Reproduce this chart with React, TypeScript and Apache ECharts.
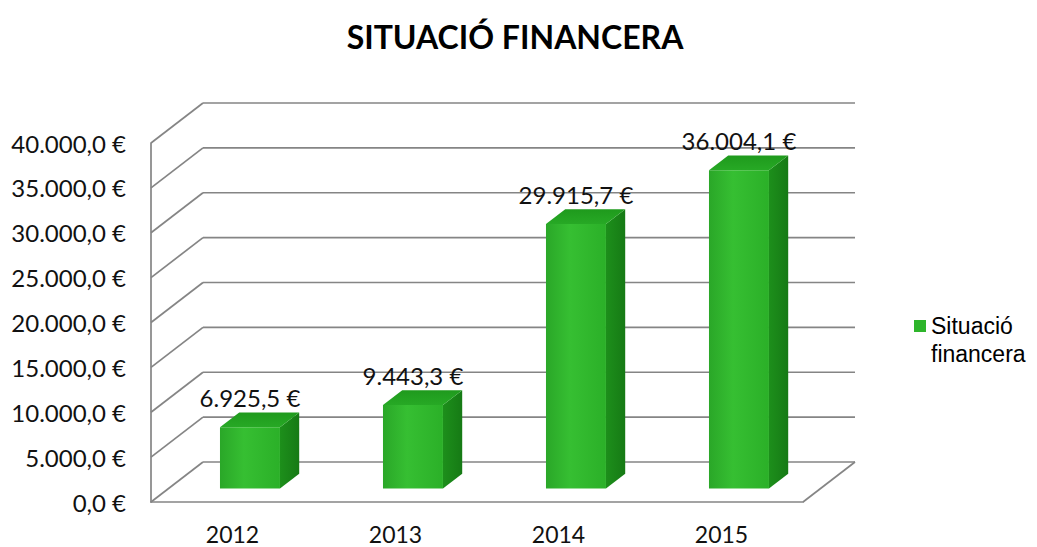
import React, { useEffect, useRef } from "react";
import * as echarts from "echarts";

const title = "SITUACIÓ FINANCERA";
const seriesName = "Situació financera";
const categories = ["2012", "2013", "2014", "2015"];
const values = [6925.5, 9443.3, 29915.7, 36004.1];
const yTicks = [0, 5000, 10000, 15000, 20000, 25000, 30000, 35000, 40000];

const DX = 52;
const DY = -40;
const F0 = 0.336;
const BD = 0.37;
const K = 0.985;
const GRID_COLOR = "#858585";
const FONT = "Lato";

function fmtEuro(v: number): string {
  const [i, d] = v.toFixed(1).split(".");
  const withDots = i.replace(/\B(?=(\d{3})+(?!\d))/g, ".");
  return withDots + "," + d + " €";
}

export default function App() {
  const ref = useRef<HTMLDivElement>(null);
  useEffect(() => {
    if (!ref.current) return;
    const chart = echarts.init(ref.current, null, { renderer: "svg" });

    const wallsRender = (params: any, api: any) => {
      const v = api.value(1);
      const p = api.coord([0, v]);
      const cs = params.coordSys;
      const L = cs.x;
      const R = cs.x + cs.width;
      const y = p[1];
      const style = { stroke: GRID_COLOR, lineWidth: 1.7, fill: null };
      const children: any[] = [
        { type: "line", shape: { x1: L, y1: y, x2: L + DX, y2: y + DY }, style },
        { type: "line", shape: { x1: L + DX, y1: y + DY, x2: R + DX, y2: y + DY }, style },
      ];
      if (v === 0) {
        children.push({ type: "line", shape: { x1: R, y1: y, x2: R + DX, y2: y + DY }, style });
      }
      return { type: "group", children };
    };

    const barsRender = (params: any, api: any) => {
      const idx = api.value(0);
      const val = api.value(1);
      const base = api.coord([idx, 0]);
      const top = api.coord([idx, val]);
      const band = api.size([1, 0])[0];
      const w = band * 0.368;
      const ox = DX * F0;
      const oy = DY * F0;
      const xl = base[0] + ox - w / 2;
      const xr = xl + w;
      const yb = base[1] + oy;
      const yt = yb - (base[1] - top[1]) * K;
      const bx = DX * BD;
      const by = DY * BD;
      return {
        type: "group",
        children: [
          {
            type: "polygon",
            shape: { points: [[xr, yt], [xr + bx, yt + by], [xr + bx, yb + by], [xr, yb]] },
            style: {
              fill: new echarts.graphic.LinearGradient(0, 0, 1, 0, [
                { offset: 0, color: "#1d8f1b" },
                { offset: 1, color: "#167a15" },
              ]),
            },
          },
          {
            type: "polygon",
            shape: { points: [[xl, yt], [xl + bx, yt + by], [xr + bx, yt + by], [xr, yt]] },
            style: {
              fill: new echarts.graphic.LinearGradient(0, 1, 0, 0, [
                { offset: 0, color: "#27a925" },
                { offset: 1, color: "#1f9a1d" },
              ]),
            },
          },
          {
            type: "rect",
            shape: { x: xl, y: yt, width: w, height: yb - yt },
            style: {
              fill: new echarts.graphic.LinearGradient(0, 0, 1, 0, [
                { offset: 0, color: "#2aa728" },
                { offset: 0.4, color: "#36bf32" },
                { offset: 1, color: "#2bb028" },
              ]),
            },
          },
          {
            type: "text",
            style: {
              x: xl + w / 2,
              y: yt + by - 3,
              text: fmtEuro(val),
              align: "center",
              verticalAlign: "bottom",
              fill: "#111",
              fontSize: 24,
              fontFamily: FONT,
            },
          },
        ],
      };
    };

    chart.setOption({
      animation: false,
      backgroundColor: "#ffffff",
      title: {
        text: title,
        left: 510,
        top: 15,
        textAlign: "center",
        textStyle: { fontFamily: FONT, fontWeight: "bold", fontSize: 32, color: "#000" },
      },
      legend: {
        left: 909,
        top: 279,
        icon: "rect",
        itemWidth: 12,
        itemHeight: 12,
        data: [{ name: seriesName, itemStyle: { color: "#2eb52b" } }],
        formatter: () => "\u00a0\nSituació\nfinancera",
        textStyle: {
          fontFamily: "Liberation Sans",
          fontSize: 23,
          lineHeight: 28,
          color: "#000",
        },
      },
      grid: { left: 151, top: 143, width: 652, height: 359, containLabel: false },
      xAxis: {
        type: "category",
        data: categories,
        axisLine: { show: true, lineStyle: { color: GRID_COLOR, width: 1.7 } },
        axisTick: { show: false },
        axisLabel: { margin: 20, fontFamily: FONT, fontSize: 23, color: "#111" },
      },
      yAxis: {
        type: "value",
        min: 0,
        max: 40000,
        interval: 5000,
        axisLine: { show: true, lineStyle: { color: GRID_COLOR, width: 1.7 } },
        axisTick: { show: false },
        splitLine: { show: false },
        axisLabel: {
          margin: 25,
          fontFamily: FONT,
          fontSize: 24,
          color: "#111",
          formatter: (v: number) => fmtEuro(v),
        },
      },
      series: [
        {
          type: "custom",
          name: "walls",
          renderItem: wallsRender,
          data: yTicks.map((v) => [0, v]),
          encode: { x: 0, y: 1 },
          silent: true,
          z: 1,
        },
        {
          type: "custom",
          name: seriesName,
          renderItem: barsRender,
          itemStyle: { color: "#2eb52b" },
          data: values.map((v, i) => [i, v]),
          encode: { x: 0, y: 1 },
          z: 5,
        },
      ],
    });
    return () => chart.dispose();
  }, []);
  return (
    <div
      ref={ref}
      style={{ position: "fixed", left: 0, top: 0, width: 1037, height: 547 }}
    />
  );
}
